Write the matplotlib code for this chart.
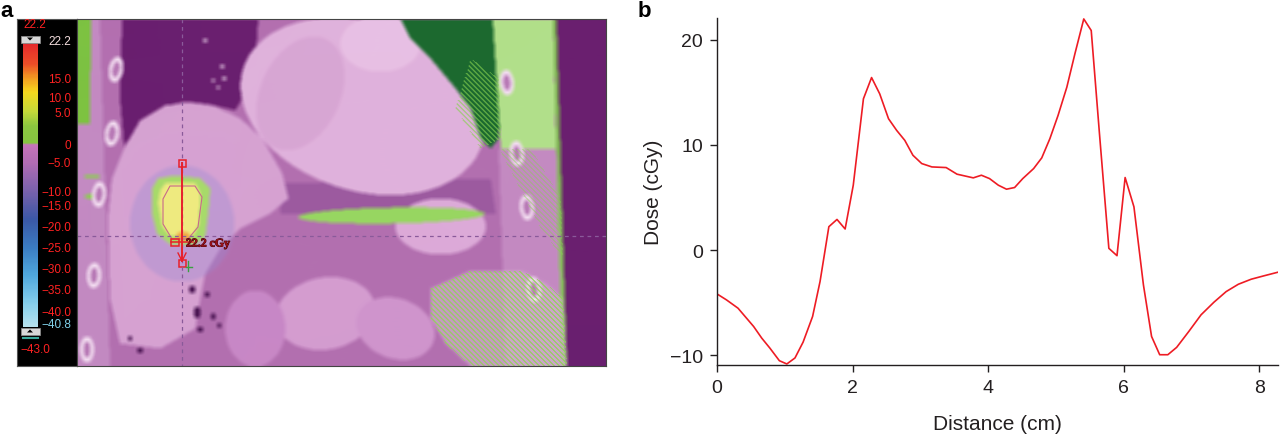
import numpy as np
import matplotlib
matplotlib.use("Agg")
import matplotlib.pyplot as plt
from matplotlib.path import Path
from matplotlib.colors import LinearSegmentedColormap, to_rgb
from matplotlib.patches import Rectangle, Polygon
import matplotlib.patheffects as pe

plt.rcParams['font.family'] = ['Liberation Sans', 'DejaVu Sans']

# ---------------- data (panel b) ----------------
distance_cm = [0.00, 0.14, 0.31, 0.54, 0.66, 0.78, 0.92, 1.03, 1.15, 1.27, 1.41, 1.52,
               1.65, 1.77, 1.89, 2.01, 2.16, 2.28, 2.40, 2.53, 2.65, 2.77, 2.89, 3.02,
               3.17, 3.38, 3.54, 3.78, 3.90, 4.02, 4.15, 4.27, 4.39, 4.51, 4.67, 4.79,
               4.91, 5.03, 5.16, 5.28, 5.41, 5.52, 5.64, 5.78, 5.90, 6.02, 6.15, 6.29,
               6.41, 6.53, 6.65, 6.78, 6.96, 7.14, 7.33, 7.51, 7.69, 7.88, 8.06, 8.27]
dose_cgy = [-4.18, -4.75, -5.54, -7.28, -8.39, -9.34, -10.54, -10.85, -10.28, -8.77, -6.33, -3.0,
            2.22, 2.91, 2.0, 6.17, 14.4, 16.42, 14.87, 12.5, 11.39, 10.44, 9.02, 8.23,
            7.91, 7.85, 7.22, 6.87, 7.12, 6.80, 6.17, 5.79, 5.95, 6.80, 7.75, 8.77,
            10.6, 12.8, 15.5, 18.7, 22.0, 20.9, 11.2, 0.16, -0.54, 6.9, 4.11, -3.32,
            -8.23, -9.97, -9.97, -9.27, -7.75, -6.17, -4.97, -3.96, -3.26, -2.78, -2.47, -2.12]
x_ticks = [0, 2, 4, 6, 8]
y_ticks = [-10, 0, 10, 20]

# ---------------- colour-bar labels (panel a) ----------------
cb_labels = ["15.0", "10.0", "5.0", "0", "\u22125.0", "\u221210.0", "\u221215.0", "\u221220.0",
             "\u221225.0", "\u221230.0", "\u221235.0", "\u221240.0"]
cb_label_y = [80, 99, 114.3, 145.7, 164, 192.7, 206.7, 228.3, 249.3, 270, 290.7, 313.3]
cb_max_label = "22.2"
cb_min_label = "\u221240.8"
cb_floor_label = "\u221243.0"
point_label = "22.2 cGy"

W_FIG, H_FIG = 1280, 435
fig = plt.figure(figsize=(12.8, 4.35), dpi=100)
fig.patch.set_facecolor('white')

def fig_axes(x0, y0, x1, y1):
    return fig.add_axes([x0 / W_FIG, 1 - y1 / H_FIG, (x1 - x0) / W_FIG, (y1 - y0) / H_FIG])

# ================= panel a : colour-bar strip =================
axc = fig_axes(17, 19.5, 77, 367)
axc.set_xlim(17, 77)
axc.set_ylim(367, 19.5)
axc.set_facecolor('black')
axc.set_xticks([]); axc.set_yticks([])
for s in axc.spines.values():
    s.set_color('#555555'); s.set_linewidth(0.8)

stops = [(0.0, '#e42a2c'), (0.07, '#ec4e28'), (0.12, '#f29a22'), (0.17, '#f6d81e'),
         (0.24, '#c4da3a'), (0.29, '#8cc640'), (0.350, '#86c440'), (0.356, '#c774bb'),
         (0.42, '#b26cb4'), (0.52, '#7a62ac'), (0.62, '#3c58a6'), (0.72, '#3b7cc2'),
         (0.82, '#50a8de'), (0.92, '#86cfec'), (1.0, '#b6e2ee')]
cmap = LinearSegmentedColormap.from_list('dosewash', stops)
grad = np.linspace(0, 1, 300)[:, None]
axc.imshow(grad, cmap=cmap, aspect='auto', extent=(22.7, 37.3, 328, 44), interpolation='bilinear')
axc.add_patch(Rectangle((20.5, 36.5), 19, 7, facecolor='#d8d8d8', edgecolor='#888888', lw=0.6))
axc.add_patch(Polygon([[27, 38.5], [33, 38.5], [30, 41.5]], closed=True, facecolor='black'))
axc.add_patch(Rectangle((20.5, 328.5), 19, 7, facecolor='#d8d8d8', edgecolor='#888888', lw=0.6))
axc.add_patch(Polygon([[27, 333.5], [33, 333.5], [30, 330.5]], closed=True, facecolor='black'))
axc.plot([22.5, 37.5], [338.5, 338.5], color='#3aa89a', lw=1.5)

txt_kw = dict(fontsize=8.5, ha='right', va='center')
axc.text(35, 25, cb_max_label, color='#ff2222', fontsize=8.5, ha='center', va='center')
axc.text(71, 42, cb_max_label, color='#f4dede', **txt_kw)
for lab, yy in zip(cb_labels, cb_label_y):
    axc.text(71, yy, lab, color='#ff2222', **txt_kw)
axc.text(71, 325, cb_min_label, color='#7fd0e8', **txt_kw)
axc.text(20, 350, cb_floor_label, color='#ff2222', fontsize=8.5, ha='left', va='center')

# ================= panel a : CT image =================
X0, Y0, X1, Y1 = 77, 19.5, 605.5, 367
W, H = int(round(X1 - X0)), int(round(Y1 - Y0))
gx, gy = np.meshgrid(np.arange(W) + X0 + 0.5, np.arange(H) + Y0 + 0.5)
P = np.column_stack([gx.ravel(), gy.ravel()])
img = np.zeros((H, W, 3))

def pmask(pts):
    return Path(pts).contains_points(P).reshape(H, W)

def emask(cx, cy, a, b, ang=0.0):
    t = np.deg2rad(ang)
    dx, dy = gx - cx, gy - cy
    u = dx * np.cos(t) + dy * np.sin(t)
    v = -dx * np.sin(t) + dy * np.cos(t)
    return (u / a) ** 2 + (v / b) ** 2 <= 1.0

def paint(mask, color, alpha=1.0):
    c = np.array(to_rgb(color))
    img[mask] = img[mask] * (1 - alpha) + c * alpha

paint(np.ones((H, W), bool), '#6a1f6f')
paint(pmask([(77, 19), (553, 19), (557, 150), (562, 260), (566, 368), (77, 368)]), '#b370b0')
paint(pmask([(77, 19), (100, 19), (110, 367), (77, 367)]), '#c38ac2')
paint(pmask([(278, 185), (490, 180), (495, 215), (280, 215)]), '#9c5aa0')
paint(pmask([(122, 20), (258, 20), (256, 50), (246, 75), (242, 100), (235, 112), (210, 106),
             (185, 103), (165, 108), (148, 118), (135, 132), (124, 148), (120, 100)]), '#6a1f6f')
paint(pmask([(124, 150), (140, 122), (165, 107), (190, 104), (215, 108), (240, 120), (262, 140),
             (282, 175), (288, 200), (270, 215), (240, 230), (220, 250), (205, 275), (200, 300),
             (195, 330), (160, 350), (120, 345), (110, 300), (108, 220), (112, 180)]), '#d6a2d2')
paint(emask(362, 108, 125, 84, 18), '#e0b2dc')
paint(emask(380, 45, 40, 28, 0), '#e8c0e4')
paint(emask(300, 95, 40, 60, 25), '#d8a6d4')
paint(pmask([(400, 20), (508, 20), (506, 60), (500, 100), (498, 140), (490, 150), (480, 140),
             (470, 110), (455, 90), (430, 60), (410, 40)]), '#1c6a2f')
paint(pmask([(492, 20), (552, 20), (555, 150), (500, 150)]), '#b2e08a')
paint(pmask([(498, 150), (556, 150), (566, 368), (505, 368)]), '#c48ac2')
paint(pmask([(552, 20), (556, 20), (566, 368), (561, 368)]), '#7ccc48', 0.8)
paint(emask(440, 228, 45, 28, 0), '#dcaad8')
paint(emask(325, 315, 50, 36, -10), '#d49cd0')
paint(emask(395, 330, 40, 30, 20), '#cf94cc')
paint(emask(255, 330, 30, 38, 0), '#c888c6')
paint(pmask([(430, 290), (470, 272), (520, 272), (545, 285), (562, 300), (566, 368),
             (470, 368), (445, 345), (430, 320)]), '#d6b4d2', 0.6)
paint(emask(391, 217, 93, 8, -1), '#98d662')
paint(pmask([(77, 19), (91, 19), (90, 125), (77, 125)]), '#7dc242')
paint(emask(92, 178, 8, 2), '#8ad04c')
paint(emask(95, 198, 11, 2.5), '#8ad04c')
for cx, cy, ang in [(116, 71, 10), (112, 135, 8), (99, 196, 5), (94, 277, 3), (87, 351, 0),
                    (506, 84, -5), (516, 155, -5), (526, 209, -5), (533, 291, -5)]:
    paint(emask(cx, cy, 7, 13, ang), '#f2dcf0')
    paint(emask(cx, cy, 3.5, 8, ang), '#b87ab6')
for cx, cy, r in [(205, 42, 2), (222, 68, 2), (224, 80, 2), (213, 82, 1.5), (218, 89, 1.5)]:
    paint(emask(cx, cy, r, r), '#e8d0e8')
paint(emask(182, 225, 52, 58), '#9a8ad2', 0.35)
paint(pmask([(152, 190), (158, 180), (175, 177), (200, 180), (210, 190), (208, 215), (205, 238),
             (195, 246), (170, 246), (157, 235), (152, 215)]), '#a8da6a')
paint(pmask([(160, 192), (166, 184), (195, 185), (200, 195), (199, 225), (193, 237), (170, 238),
             (162, 228), (158, 205)]), '#eeea80')
paint(emask(183, 238, 7, 5), '#f0a848')
for cx, cy, a, b in [(192, 291, 3, 4), (207, 296, 2.5, 3), (197, 314, 3.5, 6), (213, 318, 2.5, 3.5),
                     (219, 327, 2, 3), (200, 331, 3, 3), (130, 340, 2, 2.5), (140, 352, 3, 3)]:
    paint(emask(cx, cy, a, b), '#4a1452')

def box_blur(a, r):
    out = a.copy()
    for axis in (0, 1):
        pad = [(0, 0)] * 3
        pad[axis] = (r + 1, r)
        p = np.pad(out, pad, mode='edge')
        c = np.cumsum(p, axis=axis)
        n = out.shape[axis]
        hi = np.take(c, np.arange(2 * r + 1, 2 * r + 1 + n), axis=axis)
        lo = np.take(c, np.arange(0, n), axis=axis)
        out = (hi - lo) / (2 * r + 1)
    return out

img = np.clip(box_blur(img, 2), 0, 1)

# crisp dose-wash speckle texture (drawn after blurring)
stripe = ((gx.astype(int) - gy.astype(int)) % 5) < 2
paint(pmask([(430, 290), (470, 272), (520, 272), (545, 285), (562, 300), (566, 368),
             (470, 368), (445, 345), (430, 320)]) & stripe, '#8ed456', 0.8)
paint(pmask([(470, 60), (498, 80), (500, 140), (480, 150), (455, 110)]) & stripe, '#86d050', 0.6)
paint(pmask([(498, 150), (530, 150), (560, 200), (562, 260), (540, 230)]) & stripe, '#86d050', 0.4)

axi = fig_axes(X0, Y0, X1, Y1)
axi.imshow(img, extent=(X0, X1, Y1, Y0), aspect='auto', interpolation='bilinear')
axi.set_xlim(X0, X1); axi.set_ylim(Y1, Y0)
axi.set_xticks([]); axi.set_yticks([])
for s in axi.spines.values():
    s.set_color('#444444'); s.set_linewidth(0.8)

axi.add_patch(Polygon([(163, 200), (170, 187), (195, 187), (202, 198), (198, 228), (188, 240),
                       (172, 240), (163, 225)], closed=True, fill=False, edgecolor='#c86a8a', lw=0.8))
axi.plot([182, 182], [Y0, Y1], color='#8a5a9a', lw=0.9, ls=(0, (3, 3)))
axi.plot([X0, X1], [237, 237], color='#8a5a9a', lw=0.9, ls=(0, (3, 3)))
axi.plot([182, 182], [164, 262], color='#e8202a', lw=1.4)
for cx, cy, w, h in [(182, 164, 7, 7), (182, 264, 7, 7), (175, 243, 8, 7)]:
    axi.add_patch(Rectangle((cx - w / 2, cy - h / 2), w, h, fill=False, edgecolor='#e8202a', lw=1.1))
axi.plot([171, 193], [243, 243], color='#e8202a', lw=1.1)
axi.plot([178, 182, 186], [254, 262, 254], color='#e8202a', lw=1.0)
axi.plot([186, 192], [268, 268], color='#3aa040', lw=1.0)
axi.plot([188, 188], [262, 272], color='#3aa040', lw=1.0)
axi.text(186, 244.5, point_label, color='#9a1018', fontsize=8.5, fontweight='bold',
         family=['Liberation Serif', 'DejaVu Serif'], ha='left', va='center',
         path_effects=[pe.withStroke(linewidth=0.7, foreground='#4a0a10')])

# ================= panel b : dose profile =================
axb = fig_axes(717, 19, 1278, 365.7)
axb.plot(distance_cm, dose_cgy, color='#ee1c24', lw=1.2)
axb.set_xlim(0, 8.275)
axb.set_ylim(-10.92, 22.09)
axb.set_xticks(x_ticks)
axb.set_yticks(y_ticks)
axb.set_yticklabels([str(v).replace('-', '\u2212') for v in y_ticks])
for side in ('top', 'right'):
    axb.spines[side].set_visible(False)
for side in ('left', 'bottom'):
    axb.spines[side].set_color('#231f20')
    axb.spines[side].set_linewidth(1.0)
axb.tick_params(direction='out', length=5, width=1.0, color='#231f20', labelsize=14,
                labelcolor='#231f20', pad=5)
axb.set_xlabel('Distance (cm)', fontsize=15, color='#231f20', labelpad=13)
axb.set_ylabel('Dose (cGy)', fontsize=15, color='#231f20', labelpad=5)

fig.text(0 / W_FIG, 1 - 1 / H_FIG, 'a', fontsize=16, fontweight='bold', ha='left', va='top')
fig.text(638 / W_FIG, 1 - 1 / H_FIG, 'b', fontsize=16, fontweight='bold', ha='left', va='top')

fig.savefig('out.png', dpi=100, facecolor='white')
